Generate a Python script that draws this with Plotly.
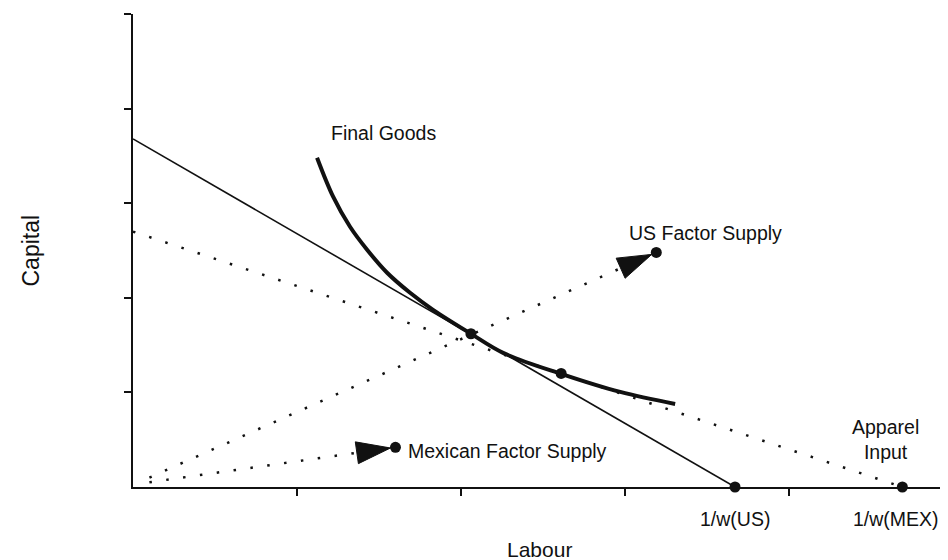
import math
import plotly.graph_objects as go

FONT = "Liberation Sans, Arial, Helvetica, sans-serif"
INK = "#111111"

# axis ticks (unlabelled)
x_ticks = [1, 2, 3, 4]
y_ticks = [1, 2, 3, 4, 5]

# US budget line (solid)
us_line_x = [0.0, 3.67]
us_line_y = [3.68, 0.0]

# Apparel input / Mexican budget line (dotted)
mex_line_x = [0.0, 4.69]
mex_line_y = [2.70, 0.0]

# Final goods isoquant
iso_x = [1.122, 1.220, 1.323, 1.427, 1.549, 1.689, 1.829, 2.061, 2.256, 2.610, 2.970, 3.305]
iso_y = [3.481, 3.069, 2.751, 2.508, 2.265, 2.053, 1.873, 1.619, 1.418, 1.196, 1.005, 0.878]

# factor supply rays
us_ray_x = [0.10, 3.19]
us_ray_y = [0.10, 2.48]
mx_ray_x = [0.10, 1.60]
mx_ray_y = [0.05, 0.42]

# highlighted points
pt_x = [2.06, 2.61, 3.19, 1.60, 3.67, 4.69]
pt_y = [1.62, 1.20, 2.48, 0.42, 0.00, 0.00]

# layout geometry (page body has an 8px margin, so the figure is offset by 8px)
W, H = 940, 552
ML, MR, MT, MB = 125, 3, 6, 73
X_RANGE = [0, 4.95]
Y_RANGE = [0, 5.0]
SX = (W - ML - MR) / (X_RANGE[1] - X_RANGE[0])
SY = (H - MT - MB) / (Y_RANGE[1] - Y_RANGE[0])


def arrow_poly(xs, ys, back=5, length=34, half=11):
    x0, x1 = xs
    y0, y1 = ys
    dx, dy = (x1 - x0) * SX, (y1 - y0) * SY
    L = math.hypot(dx, dy)
    ux, uy = dx / L, dy / L
    tx, ty = x1 * SX - back * ux, y1 * SY - back * uy
    bx, by = tx - length * ux, ty - length * uy
    nx, ny = -uy, ux
    px = [tx, bx + half * nx, bx - half * nx, tx]
    py = [ty, by + half * ny, by - half * ny, ty]
    return [p / SX for p in px], [p / SY for p in py]


fig = go.Figure()

dots = dict(color=INK, width=2.5, dash="2.5px,14.5px")

fig.add_trace(go.Scatter(x=mex_line_x, y=mex_line_y, mode="lines", line=dots, hoverinfo="skip"))
fig.add_trace(go.Scatter(x=us_ray_x, y=us_ray_y, mode="lines", line=dots, hoverinfo="skip"))
fig.add_trace(go.Scatter(x=mx_ray_x, y=mx_ray_y, mode="lines", line=dots, hoverinfo="skip"))
fig.add_trace(go.Scatter(x=us_line_x, y=us_line_y, mode="lines",
                         line=dict(color=INK, width=1.6), hoverinfo="skip"))
fig.add_trace(go.Scatter(x=iso_x, y=iso_y, mode="lines",
                         line=dict(color=INK, width=4, shape="spline", smoothing=1.0),
                         hoverinfo="skip"))

for rx, ry in [(us_ray_x, us_ray_y), (mx_ray_x, mx_ray_y)]:
    ax, ay = arrow_poly(rx, ry)
    fig.add_trace(go.Scatter(x=ax, y=ay, mode="lines", fill="toself", fillcolor=INK,
                             line=dict(color=INK, width=1), hoverinfo="skip"))

fig.add_trace(go.Scatter(x=pt_x, y=pt_y, mode="markers", cliponaxis=False,
                         marker=dict(color=INK, size=11), hoverinfo="skip"))

lab = dict(family=FONT, size=19.5, color=INK)
ann = [
    dict(x=1.524, y=3.746, text="Final Goods", xanchor="center", yanchor="middle"),
    dict(x=3.488, y=2.688, text="US Factor Supply", xanchor="center", yanchor="middle"),
    dict(x=1.665, y=0.381, text="Mexican Factor Supply", xanchor="left", yanchor="middle"),
    dict(x=4.585, y=0.497, text="Apparel<br>Input", xanchor="center", yanchor="middle"),
    dict(x=3.67, y=0, text="1/w(US)", xanchor="center", yanchor="middle", yshift=-32),
    dict(x=4.65, y=0, text="1/w(MEX)", xanchor="center", yanchor="middle", yshift=-32),
]
for a in ann:
    a.update(xref="x", yref="y", showarrow=False, font=lab)

ann.append(dict(xref="paper", yref="paper", x=0.5, y=0, yshift=-62, text="Labour",
                showarrow=False, xanchor="center", yanchor="middle",
                font=dict(family=FONT, size=21, color=INK)))
ann.append(dict(xref="paper", yref="paper", x=0, y=0.5, xshift=-(133 - 30), text="Capital",
                showarrow=False, xanchor="center", yanchor="middle", textangle=-90,
                font=dict(family=FONT, size=23, color=INK)))

axis_common = dict(showline=True, linecolor=INK, linewidth=2, ticks="outside",
                   ticklen=7, tickwidth=1.5, tickcolor=INK, showticklabels=False,
                   showgrid=False, zeroline=False, fixedrange=True)

fig.update_layout(
    width=W, height=H,
    margin=dict(l=ML, r=MR, t=MT, b=MB),
    paper_bgcolor="white", plot_bgcolor="white",
    showlegend=False,
    annotations=ann,
    xaxis=dict(range=X_RANGE, tickvals=x_ticks, **axis_common),
    yaxis=dict(range=Y_RANGE, tickvals=y_ticks, **axis_common),
)

fig.write_html("out.html")
